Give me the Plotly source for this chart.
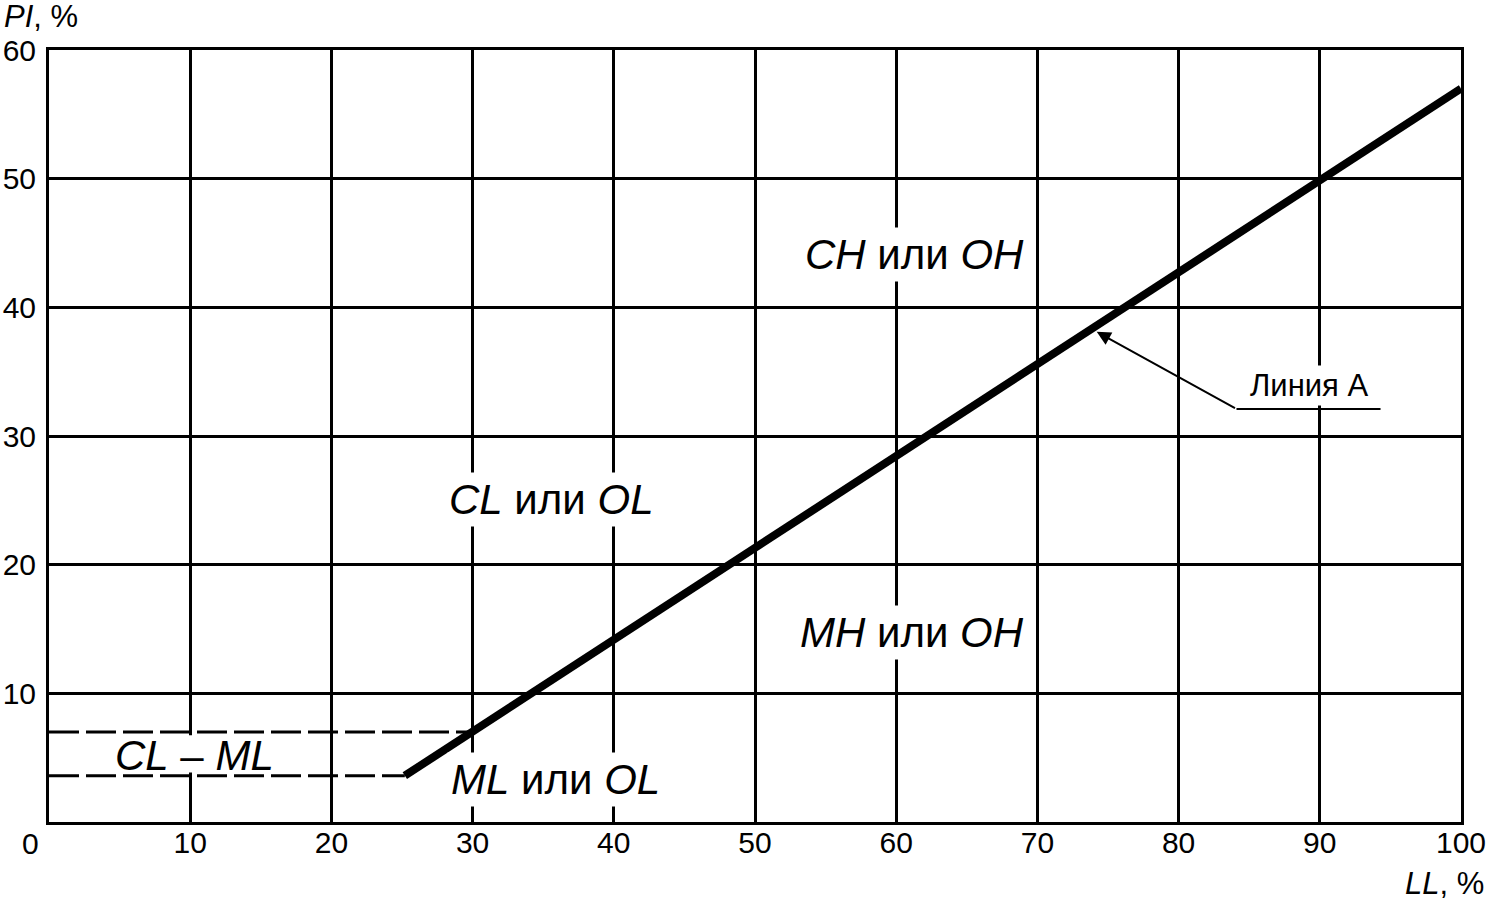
import plotly.graph_objects as go

# line A (boundary between clays and silts)
line_a_ll = [25.2, 100]
line_a_pi = [3.6, 57.0]

# CL-ML hatch zone borders
zone_top_ll = [0, 30]
zone_top_pi = [7, 7]
zone_bot_ll = [0, 25.2]
zone_bot_pi = [3.6, 3.6]

# region labels
region_text = ["<i>CH</i> или <i>OH</i>", "<i>CL</i> или <i>OL</i>",
               "<i>MH</i> или <i>OH</i>", "<i>ML</i> или <i>OL</i>"]
region_ll = [61.3, 35.6, 61.1, 35.9]
region_pi = [44.1, 25.1, 14.7, 3.3]

x_ticks = [10, 20, 30, 40, 50, 60, 70, 80, 90, 100]
y_ticks = [10, 20, 30, 40, 50, 60]

FONT = "Liberation Sans"

fig = go.Figure()

# white mask between dashed lines behind "CL - ML"
fig.add_shape(type="rect", x0=0.3, x1=19.5, y0=3.85, y1=6.75,
              fillcolor="white", line_width=0, layer="between")

fig.add_trace(go.Scatter(x=zone_top_ll, y=zone_top_pi, mode="lines",
                         line=dict(color="black", width=3, dash="30px,7px"),
                         showlegend=False, hoverinfo="skip"))
fig.add_trace(go.Scatter(x=zone_bot_ll, y=zone_bot_pi, mode="lines",
                         line=dict(color="black", width=3, dash="30px,7px"),
                         showlegend=False, hoverinfo="skip"))
fig.add_trace(go.Scatter(x=line_a_ll, y=line_a_pi, mode="lines",
                         line=dict(color="black", width=8),
                         showlegend=False))

for t, x, y in zip(region_text, region_ll, region_pi):
    fig.add_annotation(x=x, y=y, text=t, showarrow=False,
                       font=dict(family=FONT, size=42, color="black"),
                       bgcolor="white", borderpad=3)

fig.add_annotation(x=10.3, y=5.2, text="<i>CL</i> – <i>ML</i>", showarrow=False,
                   font=dict(family=FONT, size=42, color="black"))

# "Линия А" callout: text sits on an underline, leader goes to line A
fig.add_annotation(x=89.2, y=32.1, yanchor="bottom", yshift=3, text="Линия А",
                   showarrow=False, font=dict(family=FONT, size=31, color="black"),
                   bgcolor="white", borderpad=2)
fig.add_trace(go.Scatter(x=[84.1, 94.3], y=[32.1, 32.1], mode="lines",
                         line=dict(color="black", width=2),
                         showlegend=False, hoverinfo="skip"))
fig.add_annotation(x=74.2, y=38.1, ax=84.1, ay=32.1, axref="x", ayref="y",
                   text="", showarrow=True, arrowhead=2, arrowsize=1.4,
                   arrowwidth=2, arrowcolor="black")

# axis titles and origin
fig.add_annotation(xref="paper", yref="paper", x=0, y=1, xanchor="left", yanchor="bottom",
                   xshift=-47, yshift=14, text="<i>PI</i>, %", showarrow=False,
                   font=dict(family=FONT, size=31, color="black"))
fig.add_annotation(xref="paper", yref="paper", x=1, y=0, xanchor="right", yanchor="top",
                   xshift=25, yshift=-42, text="<i>LL</i>, %", showarrow=False,
                   font=dict(family=FONT, size=31, color="black"))
fig.add_annotation(xref="paper", yref="paper", x=0, y=0, xanchor="center", yanchor="middle",
                   xshift=-19, yshift=-21, text="0", showarrow=False,
                   font=dict(family=FONT, size=30, color="black"))

axis_style = dict(showgrid=True, gridcolor="black", gridwidth=3,
                  showline=True, linecolor="black", linewidth=3, mirror=True,
                  zeroline=False, ticks="", automargin=False,
                  tickfont=dict(family=FONT, size=30, color="black"))

fig.update_xaxes(range=[0, 100], tickvals=x_ticks, ticklabelstandoff=-8, **axis_style)
fig.update_yaxes(range=[0, 60], tickvals=y_ticks, ticklabelstandoff=4, **axis_style)

fig.update_layout(width=1488, height=901,
                  margin=dict(l=49, r=27, t=50, b=79),
                  plot_bgcolor="white", paper_bgcolor="white",
                  showlegend=False)

# page body has a default 8px margin which would push the figure off-screen
fig.write_html("out.html", config={"displayModeBar": False},
               post_script="document.body.style.margin='0px';")
